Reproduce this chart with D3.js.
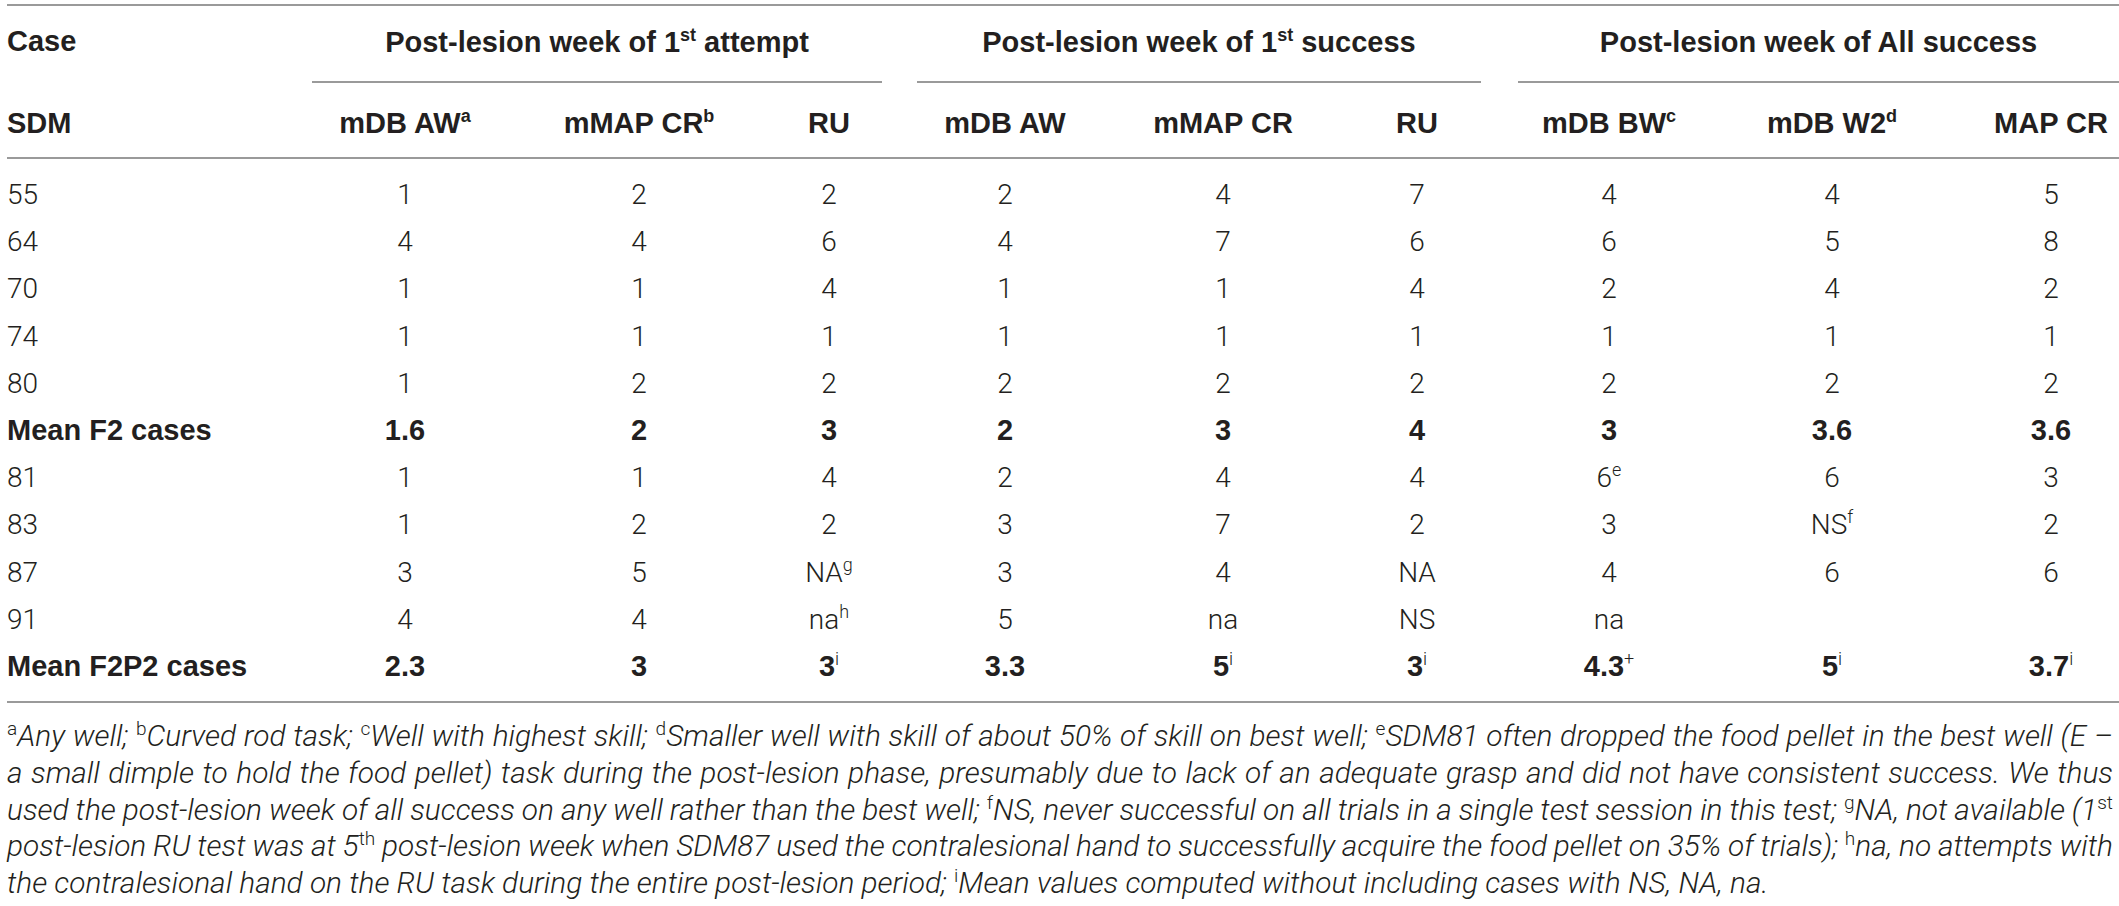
<!DOCTYPE html>
<html>
<head>
<meta charset="utf-8">
<script src="https://cdn.jsdelivr.net/npm/d3@7/dist/d3.min.js"></script>
<style>
  html, body { margin: 0; padding: 0; background: #fff; }
  svg { display: block; }
</style>
</head>
<body>
<svg id="chart" width="2119" height="906"></svg>
<script>
// ---------------- DATA ----------------
const groupTitles = [
  "Post-lesion week of 1{st} attempt",
  "Post-lesion week of 1{st} success",
  "Post-lesion week of All success"
];
const columnKeys = ["c1","c2","c3","c4","c5","c6","c7","c8","c9"];
const columnGroups = [0,0,0,1,1,1,2,2,2];
const subHeaders = ["mDB AW{a}","mMAP CR{b}","RU","mDB AW","mMAP CR","RU","mDB BW{c}","mDB W2{d}","MAP CR"];
const caseLabels = ["55","64","70","74","80","Mean F2 cases","81","83","87","91","Mean F2P2 cases"];
const boldRows = ["Mean F2 cases","Mean F2P2 cases"];

const mdbAwAttempt  = ["1","4","1","1","1","1.6","1","1","3","4","2.3"];
const mmapCrAttempt = ["2","4","1","1","2","2","1","2","5","4","3"];
const ruAttempt     = ["2","6","4","1","2","3","4","2","NA{g}","na{h}","3{i}"];
const mdbAwSuccess  = ["2","4","1","1","2","2","2","3","3","5","3.3"];
const mmapCrSuccess = ["4","7","1","1","2","3","4","7","4","na","5{i}"];
const ruSuccess     = ["7","6","4","1","2","4","4","2","NA","NS","3{i}"];
const mdbBwAll      = ["4","6","2","1","2","3","6{e}","3","4","na","4.3{+}"];
const mdbW2All      = ["4","5","4","1","2","3.6","6","NS{f}","6","","5{i}"];
const mapCrAll      = ["5","8","2","1","2","3.6","3","2","6","","3.7{i}"];
const columnValues = [mdbAwAttempt, mmapCrAttempt, ruAttempt, mdbAwSuccess, mmapCrSuccess, ruSuccess, mdbBwAll, mdbW2All, mapCrAll];

const footnoteLines = [
  "{a}Any well; {b}Curved rod task; {c}Well with highest skill; {d}Smaller well with skill of about 50% of skill on best well; {e}SDM81 often dropped the food pellet in the best well (E –",
  "a small dimple to hold the food pellet) task during the post-lesion phase, presumably due to lack of an adequate grasp and did not have consistent success. We thus",
  "used the post-lesion week of all success on any well rather than the best well; {f}NS, never successful on all trials in a single test session in this test; {g}NA, not available (1{st}",
  "post-lesion RU test was at 5{th} post-lesion week when SDM87 used the contralesional hand to successfully acquire the food pellet on 35% of trials); {h}na, no attempts with",
  "the contralesional hand on the RU task during the entire post-lesion period; {i}Mean values computed without including cases with NS, NA, na."
];
const justified = [true, true, true, true, false];

// ---------------- LAYOUT ----------------
const W = 2119, H = 906;
const LEFT = 7, RIGHT = 2113;
const BOLD = "'Liberation Sans', Arial, Helvetica, sans-serif";
const LIGHT = "Roboto, 'Liberation Sans', Arial, sans-serif";
const TEXT = "#231f20";
const RULE = "#9a9a9a";

const xCol = d3.scaleOrdinal(columnKeys, [405, 639, 829, 1005, 1223, 1417, 1609, 1832, 2051]);
const groupSpan = d3.scaleOrdinal([0,1,2], [[312, 882], [917, 1481], [1518, W]]);
const yRow = d3.scalePoint(caseLabels, [204, 676]);
const yFoot = d3.scalePoint(d3.range(footnoteLines.length), [746, 893]);

const svg = d3.select("#chart");
svg.append("rect").attr("width", W).attr("height", H).attr("fill", "#fff");

// rich text helper: "{x}" = superscript
function rich(textSel, str, opts) {
  const parts = str.split(/(\{[^}]*\})/).filter(s => s.length);
  const raise = opts.raise;
  let up = false;
  parts.forEach(p => {
    const isSup = p[0] === "{";
    const t = textSel.append("tspan").text(isSup ? p.slice(1, -1) : p);
    if (isSup) {
      t.attr("font-size", opts.supSize).attr("dy", -raise);
      if (opts.supWeight) t.attr("font-weight", opts.supWeight);
      if (opts.supStyle) t.attr("font-style", opts.supStyle);
      if (opts.supFamily) t.attr("font-family", opts.supFamily);
      up = true;
    } else if (up) {
      t.attr("dy", raise);
      up = false;
    }
  });
}

// rules
const hline = (x1, x2, y) => svg.append("line")
  .attr("x1", x1).attr("x2", x2).attr("y1", y).attr("y2", y)
  .attr("stroke", RULE).attr("stroke-width", 2);
hline(LEFT, W, 5);
hline(LEFT, W, 158);
hline(LEFT, W, 702);
[0,1,2].forEach(g => { const s = groupSpan(g); hline(s[0], s[1], 82); });

// header row 1
svg.append("text").attr("x", LEFT).attr("y", 51)
  .attr("font-family", BOLD).attr("font-weight", "bold").attr("font-size", 29)
  .attr("fill", TEXT).text("Case");
groupTitles.forEach((g, i) => {
  const s = groupSpan(i);
  const t = svg.append("text").attr("x", (s[0] + s[1]) / 2).attr("y", 52)
    .attr("text-anchor", "middle")
    .attr("font-family", BOLD).attr("font-weight", "bold").attr("font-size", 29)
    .attr("fill", TEXT);
  rich(t, g, { supSize: 18, raise: 11 });
});

// header row 2
svg.append("text").attr("x", LEFT).attr("y", 133)
  .attr("font-family", BOLD).attr("font-weight", "bold").attr("font-size", 29)
  .attr("fill", TEXT).text("SDM");
subHeaders.forEach((h, i) => {
  const t = svg.append("text").attr("x", xCol(columnKeys[i])).attr("y", 133)
    .attr("text-anchor", "middle")
    .attr("font-family", BOLD).attr("font-weight", "bold").attr("font-size", 29)
    .attr("fill", TEXT);
  rich(t, h, { supSize: 18, raise: 11 });
});

// body rows
caseLabels.forEach((c, r) => {
  const bold = boldRows.includes(c);
  svg.append("text").attr("x", LEFT).attr("y", yRow(c))
    .attr("font-family", bold ? BOLD : LIGHT)
    .attr("font-weight", bold ? "bold" : 300)
    .attr("font-size", bold ? 29 : 28)
    .attr("fill", TEXT).text(c);
  columnKeys.forEach((k, ci) => {
    const v = columnValues[ci][r];
    if (!v) return;
    const t = svg.append("text").attr("x", xCol(k)).attr("y", yRow(c))
      .attr("text-anchor", "middle")
      .attr("font-family", bold ? BOLD : LIGHT)
      .attr("font-weight", bold ? "bold" : 300)
      .attr("font-size", bold ? 29 : 28)
      .attr("fill", TEXT);
    rich(t, v, { supSize: 18, raise: 11, supWeight: 300, supFamily: LIGHT });
  });
});

// footnotes
const footSize0 = 28;
const footNodes = footnoteLines.map((line, i) => {
  const t = svg.append("text").attr("x", LEFT).attr("y", yFoot(i))
    .attr("font-family", LIGHT).attr("font-weight", 300)
    .attr("font-style", "italic").attr("font-size", footSize0)
    .attr("fill", TEXT);
  rich(t, line, { supSize: 18, raise: 11, supStyle: "normal" });
  return t;
});
// scale font so the last (unjustified) line matches its width in the reference
const lastW = footNodes[footNodes.length - 1].node().getComputedTextLength();
const footSize = Math.min(30, footSize0 * 1762 / lastW);
footNodes.forEach((t, i) => {
  t.attr("font-size", footSize);
  t.selectAll("tspan").filter(function() { return this.getAttribute("font-size"); })
    .attr("font-size", footSize * 0.64);
  if (justified[i]) {
    const nat = t.node().getComputedTextLength();
    const spaces = (t.text().match(/ /g) || []).length;
    const ws = (RIGHT - LEFT - nat) / spaces;
    t.style("word-spacing", ws + "px");
  }
});
</script>
</body>
</html>
